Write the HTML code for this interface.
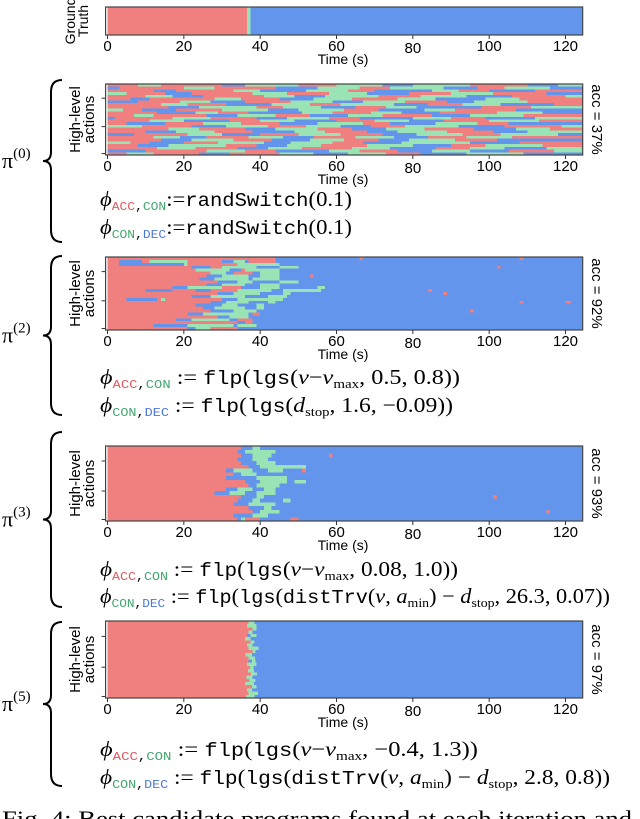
<!DOCTYPE html>
<html><head><meta charset="utf-8"><style>
html,body{margin:0;padding:0;background:#fff;}
svg{display:block;}
.tk{font-family:"Liberation Sans",sans-serif;font-size:15px;}
.lb{font-family:"Liberation Sans",sans-serif;font-size:14px;}
.yl{font-family:"Liberation Sans",sans-serif;font-size:15px;}
.fm{font-family:"Liberation Serif",serif;font-size:21px;}
.mono{font-family:"Liberation Mono",monospace;}
</style></head><body>
<svg id="fig" width="640" height="819" viewBox="0 0 640 819" xmlns="http://www.w3.org/2000/svg">
<g id="plots"></g>
<g id="formulas">
 <text class="fm" x="100" y="206" textLength="252" lengthAdjust="spacingAndGlyphs"><tspan font-style="italic">ϕ</tspan><tspan class="mono" font-size="12" dy="4" fill="#e0565b">ACC</tspan><tspan class="mono" font-size="12">,</tspan><tspan class="mono" font-size="12" fill="#3fa66b">CON</tspan><tspan dy="-4">:=</tspan><tspan class="mono" font-size="19">randSwitch</tspan>(0.1)</text>
 <text class="fm" x="100" y="234" textLength="252" lengthAdjust="spacingAndGlyphs"><tspan font-style="italic">ϕ</tspan><tspan class="mono" font-size="12" dy="4" fill="#3fa66b">CON</tspan><tspan class="mono" font-size="12">,</tspan><tspan class="mono" font-size="12" fill="#4a78d8">DEC</tspan><tspan dy="-4">:=</tspan><tspan class="mono" font-size="19">randSwitch</tspan>(0.1)</text>

 <text class="fm" x="100" y="384" textLength="360" lengthAdjust="spacingAndGlyphs"><tspan font-style="italic">ϕ</tspan><tspan class="mono" font-size="12" dy="4" fill="#e0565b">ACC</tspan><tspan class="mono" font-size="12">,</tspan><tspan class="mono" font-size="12" fill="#3fa66b">CON</tspan><tspan dy="-4"> := </tspan><tspan class="mono" font-size="19">flp</tspan>(<tspan class="mono" font-size="19">lgs</tspan>(<tspan font-style="italic">v</tspan>−<tspan font-style="italic">v</tspan><tspan font-size="13" dy="4">max</tspan><tspan dy="-4">, 0.5, 0.8))</tspan></text>
 <text class="fm" x="100" y="412" textLength="353" lengthAdjust="spacingAndGlyphs"><tspan font-style="italic">ϕ</tspan><tspan class="mono" font-size="12" dy="4" fill="#3fa66b">CON</tspan><tspan class="mono" font-size="12">,</tspan><tspan class="mono" font-size="12" fill="#4a78d8">DEC</tspan><tspan dy="-4"> := </tspan><tspan class="mono" font-size="19">flp</tspan>(<tspan class="mono" font-size="19">lgs</tspan>(<tspan font-style="italic">d</tspan><tspan font-size="13" dy="4">stop</tspan><tspan dy="-4">, 1.6, −0.09))</tspan></text>

 <text class="fm" x="100" y="576" textLength="358" lengthAdjust="spacingAndGlyphs"><tspan font-style="italic">ϕ</tspan><tspan class="mono" font-size="12" dy="4" fill="#e0565b">ACC</tspan><tspan class="mono" font-size="12">,</tspan><tspan class="mono" font-size="12" fill="#3fa66b">CON</tspan><tspan dy="-4"> := </tspan><tspan class="mono" font-size="19">flp</tspan>(<tspan class="mono" font-size="19">lgs</tspan>(<tspan font-style="italic">v</tspan>−<tspan font-style="italic">v</tspan><tspan font-size="13" dy="4">max</tspan><tspan dy="-4">, 0.08, 1.0))</tspan></text>
 <text class="fm" x="100" y="603" textLength="510" lengthAdjust="spacingAndGlyphs"><tspan font-style="italic">ϕ</tspan><tspan class="mono" font-size="12" dy="4" fill="#3fa66b">CON</tspan><tspan class="mono" font-size="12">,</tspan><tspan class="mono" font-size="12" fill="#4a78d8">DEC</tspan><tspan dy="-4"> := </tspan><tspan class="mono" font-size="19">flp</tspan>(<tspan class="mono" font-size="19">lgs</tspan>(<tspan class="mono" font-size="19">distTrv</tspan>(<tspan font-style="italic">v</tspan>, <tspan font-style="italic">a</tspan><tspan font-size="13" dy="4">min</tspan><tspan dy="-4">) − </tspan><tspan font-style="italic">d</tspan><tspan font-size="13" dy="4">stop</tspan><tspan dy="-4">, 26.3, 0.07))</tspan></text>

 <text class="fm" x="100" y="756" textLength="378" lengthAdjust="spacingAndGlyphs"><tspan font-style="italic">ϕ</tspan><tspan class="mono" font-size="12" dy="4" fill="#e0565b">ACC</tspan><tspan class="mono" font-size="12">,</tspan><tspan class="mono" font-size="12" fill="#3fa66b">CON</tspan><tspan dy="-4"> := </tspan><tspan class="mono" font-size="19">flp</tspan>(<tspan class="mono" font-size="19">lgs</tspan>(<tspan font-style="italic">v</tspan>−<tspan font-style="italic">v</tspan><tspan font-size="13" dy="4">max</tspan><tspan dy="-4">, −0.4, 1.3))</tspan></text>
 <text class="fm" x="100" y="784" textLength="510" lengthAdjust="spacingAndGlyphs"><tspan font-style="italic">ϕ</tspan><tspan class="mono" font-size="12" dy="4" fill="#3fa66b">CON</tspan><tspan class="mono" font-size="12">,</tspan><tspan class="mono" font-size="12" fill="#4a78d8">DEC</tspan><tspan dy="-4"> := </tspan><tspan class="mono" font-size="19">flp</tspan>(<tspan class="mono" font-size="19">lgs</tspan>(<tspan class="mono" font-size="19">distTrv</tspan>(<tspan font-style="italic">v</tspan>, <tspan font-style="italic">a</tspan><tspan font-size="13" dy="4">min</tspan><tspan dy="-4">) − </tspan><tspan font-style="italic">d</tspan><tspan font-size="13" dy="4">stop</tspan><tspan dy="-4">, 2.8, 0.8))</tspan></text>

 <text x="2" y="826" font-family="Liberation Serif, serif" font-size="22" textLength="630" lengthAdjust="spacingAndGlyphs">Fig. 4: Best candidate programs found at each iteration and</text>
</g>
</svg>
<script>
// ---- data ----
const tickLabels = [0, 20, 40, 60, 80, 100, 120];
const panelNames = ["ground-truth", "pi-0", "pi-2", "pi-3", "pi-5"];
const piLabels = ["", "0", "2", "3", "5"];
const accLabels = ["", "acc = 37%", "acc = 92%", "acc = 93%", "acc = 97%"];
const rowsGT = ["R0 G36.5 B37.5"];
const rowsP0 = [
"R0 G8 R14 B30 G36 R50 G60 B72 G80 R95 B110 G118","B0 R3 G20 R28 B44 G55 R66 G74 B88 R97 G104 B116",
"R0 B12 R18 G33 B40 G52 R63 B70 G85 R92 B100 R112","G0 R5 B15 R22 G38 R47 G58 B68 R79 G90 R101 B115",
"R0 G10 B17 R25 G41 B49 G57 R71 G82 B94 R106 G120","R0 B6 R11 G28 R35 B45 G54 R64 G76 B86 G99 R108",
"B0 R8 G19 B27 R36 G48 B59 G67 R78 B89 G96 R110","R0 G14 R21 B31 G43 R53 G61 B75 R84 G93 B103 R117",
"R0 B16 G24 R39 G46 B56 R65 G73 B81 R98 G111","G0 R4 B9 R18 G30 B42 G50 R62 B71 G83 R91 B107",
"R0 B13 G23 R29 B37 G51 R59 G69 B77 R87 G102 B114","R0 G7 R12 B26 G34 R44 B53 G63 R72 B85 G95 R109",
"B0 R2 G17 R27 B39 G47 R58 B66 G80 R90 B99 G112","R0 G11 B20 R32 G40 B49 R60 G70 B79 R88 G100 R113",
"R0 B5 R15 G25 R35 B45 G55 R67 B74 G86 R97 B105","G0 R9 B22 G31 R42 G52 B61 R69 G78 B92 R104 G119",
"R0 G16 R24 B36 G44 R55 B64 G73 R83 B96 G107 R116","R0 B10 G18 R28 B38 G49 R57 B68 G76 R89 B101 G110",
"B0 R7 G21 B30 R40 G50 R61 B72 G81 R93 G103 B118","R0 G12 B19 R26 G37 B46 R54 G65 B75 R84 G94 R106",
"R0 B14 G22 R33 B43 G53 R62 B71 G79 R91 B102","G0 R6 B11 R20 G29 B41 G48 R59 B67 G77 B95 R108",
"R0 B8 G16 R31 B39 G47 R56 G68 B80 R90 G99 R114","R0 G13 R23 B34 G42 R51 G64 B74 R86 G95 B104 G115",
"B0 R10 G26 R36 B44 G58 R66 B76 G85 B95 R105 G117","R0 G5 R12 B24 R32 G45 B54 G63 R73 B82 G94 B109"];
const rowsP2 = [
"R0 B44 R66 B67 R108 B109","R0 B3 R9 G11 R21 B30 G33 B36 R37 B44","R0 B3 G20 B21 R21 G34 B45",
"R0 B22 R27 G30 B39 G45 B50 R102 B103","R0 G23 B32 R35 G36 B45","R0 G27 B31 R33 B38 G40 B45",
"R0 B26 G30 B37 G40 B45 R53 B54","R0 B24 G28 B37 G38 B45","R0 B29 G34 B38 G45 B50",
"R0 B26 G30 B36 G40 B45","R0 B17 G21 R30 B35 G40 B45 G55 B57","R0 B10 R17 B23 R27 G34 B43 G46 B56 R84 B85",
"R0 B29 G33 B40 G46 B48 R88 B89","R0 B22 G27 B36 G42 B47","R0 B5 R13 G14 B15 R15 B30 G34 B46",
"R0 B27 G31 B37 G42 B44 R108 B109 R120 B121.5","R0 B23 G30 B34 G39 B41","R0 B25 G28 B36 G39 B41",
"R0 B27 G33 B39 R95 B96","R0 B21 G25 B37 R38 B40","R0 B29 G32 B37","R0 B18 G22 B32 R34 B38",
"R0 B34 R36 B38","R0 B12 G21 B33 G34 B39","R0 B21 G23 R27 B34"];
const rowsP3 = [
"R0 B35 G38 B40","R0 B34 G36 B44","R0 B35 G38 B43 R58 B59","R0 B34 G38 B42","R0 B35 G39 B44",
"R0 B37 G40 B52","R0 B31 G33 B38 G42 B46 R51 B52","R0 B33 G35 B39","R0 B31 G39 B47","R0 B36 G40 B47 G49 B52",
"R0 B37 G39 B45","R0 B31 G34 B38 G41 B44","R0 B28 G32 B36 G39 B44","R0 B35 G39 B41 R101 B102","R0 B34 G38 B40 G46 B48",
"R0 B33 G37 B44","R0 B37 G41 B43","R0 B38 G40 B45 R115 B116","R0 B33 G38 B42","R0 B34 G35 R36 B40 R48 B50"];
const rowsP5 = [
"R0 G37 B38.5","R0 G36.5 B39","R0 G38 B39","R0 G37 B38","R0 B36.5 G37.5 B39","R0 G36 B37.5",
"R0 G37.5 B38.5","R0 G36.5 B38","R0 G37 B39.5","R0 G38 B38.8","R0 G36.2 B37.8","R0 G37 B38.6",
"R0 B37 G37.8 B38.8","R0 G36.6 B39","R0 G37.4 B38.2","R0 G36.8 B38.4","R0 G37.6 B39.2","R0 G36.4 B38",
"R0 G37.2 B38.8","R0 G36 B38.4","R0 G37.8 B39","R0 G36.6 B37.8","R0 G37 B39.4","R0 G36.3 B38.5"];
const allRows = [rowsGT, rowsP0, rowsP2, rowsP3, rowsP5];

// ---- layout ----
const panelTop = [7, 84, 257, 446, 621];
const panelBot = [35, 155, 330, 521, 698];
const braceTop = [0, 80, 256, 432, 622];
const braceBot = [0, 242, 415, 607, 786];
const colors = {R: "#f08080", G: "#9ae3b5", B: "#6495ed"};
const T0 = -0.5, T1 = 124.5;
const xs = t => 107.5 + t * 3.8167;
const NS = "http://www.w3.org/2000/svg";
const root = document.getElementById("plots");
function mk(tag, attrs, parent) {
  const e = document.createElementNS(NS, tag);
  for (const k in attrs) e.setAttribute(k, attrs[k]);
  (parent || root).appendChild(e);
  return e;
}
allRows.forEach((rows, p) => {
  const g = mk("g", {});
  
  
  const top = panelTop[p], bot = panelBot[p];
  const rh = (bot - top) / rows.length;
  rows.forEach((r, i) => {
    const segs = r.split(" ").map(s => [s[0], parseFloat(s.slice(1))]);
    segs.forEach((s, j) => {
      const a = Math.max(s[1], T0), b = j + 1 < segs.length ? segs[j + 1][1] : T1;
      if (b <= a) return;
      const rc = mk("rect", {x: xs(a), y: top + i * rh, width: xs(b) - xs(a), height: rh + 0.3, fill: colors[s[0]], "shape-rendering": "crispEdges"}, g);
      
      
    });
  });
  const fr = mk("rect", {x: xs(T0), y: top, width: xs(T1) - xs(T0), height: bot - top, fill: "none", stroke: "#444", "stroke-width": 1.2}, g);
  
  
  tickLabels.forEach(v => {
    mk("line", {x1: xs(v), x2: xs(v), y1: bot, y2: bot + 4, stroke: "#333"}, g);
    const t = mk("text", {x: xs(v), y: bot + 16 + (v === 80 ? 2 : 0), "text-anchor": "middle", class: "tk"}, g);
    t.textContent = v;
    
    
  });
  const tl = mk("text", {x: 343, y: bot + 29, "text-anchor": "middle", class: "lb"}, g);
  tl.textContent = "Time (s)";
  
  
  const cy = (top + bot) / 2;
  if (p === 0) {
    const yl = mk("text", {transform: `translate(85,${cy}) rotate(-90)`, "text-anchor": "middle", class: "lb"}, g);
    yl.innerHTML = '<tspan x="0" dy="-10">Ground</tspan><tspan x="0" dy="13">Truth</tspan>';
    
    
    return;
  }
  [0.2, 0.6, 0.98].forEach(f => mk("line", {x1: xs(T0) - 4, x2: xs(T0), y1: top + f * (bot - top), y2: top + f * (bot - top), stroke: "#333"}, g));
  const yl = mk("text", {transform: `translate(84,${cy}) rotate(-90)`, "text-anchor": "middle", class: "yl"}, g);
  yl.innerHTML = '<tspan x="0" dy="-4">High-level</tspan><tspan x="0" dy="14">actions</tspan>';
  
  
  const ac = mk("text", {transform: `translate(592,${cy}) rotate(90)`, "text-anchor": "middle", class: "tk"}, g);
  ac.textContent = accLabels[p];
  
  
  const y0 = braceTop[p], y1 = braceBot[p], m = (y0 + y1) / 2;
  const br = mk("path", {d: `M62,${y0} Q51,${y0} 51,${y0+12} L51,${m-9} Q51,${m} 43,${m} Q51,${m} 51,${m+9} L51,${y1-12} Q51,${y1} 62,${y1}`, fill: "none", stroke: "#000", "stroke-width": 2}, g);
  
  
  const pl = mk("text", {x: 2, y: m + 7, "font-family": "Liberation Serif, serif", "font-size": 22}, g);
  pl.innerHTML = 'π<tspan font-size="15" dy="-10">(' + piLabels[p] + ')</tspan>';
  
  
});
</script>
</body></html>
